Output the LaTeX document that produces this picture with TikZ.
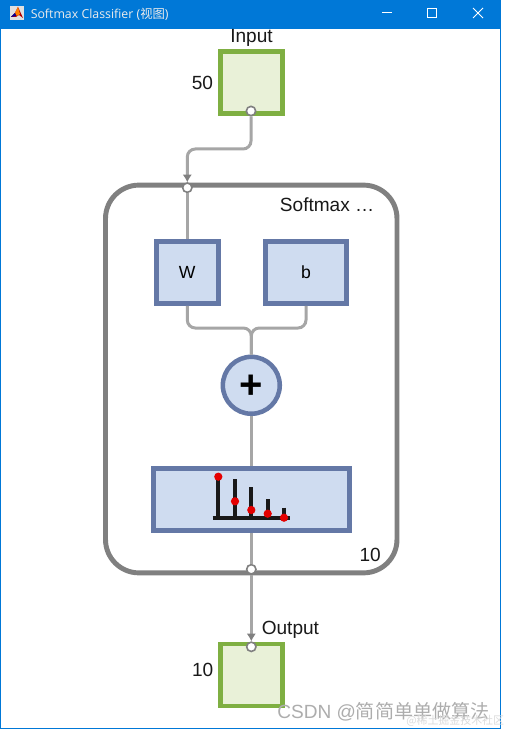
\documentclass[tikz,border=0pt]{standalone}
\usepackage{fontspec}
\setmainfont{Liberation Sans}
\newfontfamily\cjkfont{Noto Sans CJK SC}
\newfontfamily\titlefont{Open Sans}
\usetikzlibrary{arrows.meta}
\definecolor{winblue}{HTML}{0078D7}
\definecolor{iofill}{HTML}{E9F1D8}
\definecolor{ioedge}{HTML}{7FAF42}
\definecolor{blfill}{HTML}{CFDCF0}
\definecolor{bledge}{HTML}{6478A6}
\definecolor{wiregray}{HTML}{A6A6A6}
\definecolor{tipgray}{HTML}{808080}
\definecolor{outergray}{HTML}{808080}
\tikzset{
  x=0.75pt,y=-0.75pt,
  lbl/.style={inner sep=0pt,anchor=base,font=\fontsize{14.3pt}{16pt}\selectfont,text=black!90},
  iobox/.style={draw=ioedge,fill=iofill,line width=3.6pt,minimum width=46.5pt,minimum height=46.5pt,inner sep=0pt},
  blbox/.style={draw=bledge,fill=blfill,line width=3.4pt,minimum height=46.5pt,inner sep=0pt,font=\fontsize{13.2pt}{15pt}\selectfont},
  port/.style={circle,draw=tipgray,fill=white,line width=1.2pt,minimum size=7pt,inner sep=0pt},
  wire/.style={draw=wiregray,line width=2.25pt,rounded corners=6pt},
  wirearrow/.style={wire,-{Latex[length=5.8pt,width=7pt,color=tipgray]}},
  stem/.style={line width=3pt,draw=black!90},
  dot/.style={circle,fill=red!90!black,inner sep=0pt,minimum size=6.2pt},
  winbtn/.style={draw=white,line width=0.75pt},
  wmark/.style={inner sep=0pt,anchor=base west,text=black!32}
}
\begin{document}
\begin{tikzpicture}
\useasboundingbox (0,0) rectangle (504,730);
\fill[white] (0,0) rectangle (504,730);
% window
\draw[winblue,line width=0.9pt] (0.6,0) -- (0.6,728.4) -- (500.6,728.4) -- (500.6,0);
\fill[winblue] (0,0) rectangle (501,29);
% icon
\fill[black!12] (10,6) rectangle (24,20);
\fill[red!70!black] (11,17) -- (15,13) -- (18,7) -- (23,18) -- (19,15) -- (16,17) -- cycle;
\fill[orange] (15,13) -- (18,7) -- (20,14) -- (17,16) -- cycle;
\fill[blue!60!black] (11,17) -- (15,13) -- (16,16) -- cycle;
\node[inner sep=0pt,anchor=base west,text=white!92!black,font=\fontsize{9.25pt}{11pt}\titlefont] (title) at (30.5,18.5) {Softmax Classifier ({\cjkfont 视图})};
\draw[winbtn] (382,13) -- (392,13);
\draw[winbtn] (427.5,8.5) rectangle (436.5,17.5);
\draw[winbtn] (473,8) -- (483,18) (483,8) -- (473,18);
% outer block
\node[draw=outergray,line width=3.7pt,rounded corners=25pt,fill=white,minimum width=218.6pt,minimum height=290.8pt,inner sep=0pt] (net) at (251.25,379) {};
% nodes
\node[iobox] (input) at (251.5,82.5) {};
\node[iobox] (output) at (251.5,675) {};
\node[blbox,minimum width=46.5pt] (W) at (187.3,272.6) {W};
\node[blbox,minimum width=61pt] (b) at (306,272.6) {b};
\node[circle,draw=bledge,fill=blfill,line width=3.4pt,minimum size=42.7pt,inner sep=0pt] (add) at (251.3,385.3) {};
\node[blbox,minimum width=147pt] (soft) at (251.3,499.4) {};
\node[port] (inport) at (251,111) {};
\node[port] (netin) at (187.3,187.7) {};
\node[port] (netout) at (251.3,569.3) {};
\node[port] (outport) at (251.3,646.8) {};
\coordinate (inbend) at (187.3,149);
\coordinate (wbend) at (187.3,328);
\coordinate (bbend) at (306,328);
\coordinate (addin) at (251.3,328);
\coordinate (netintip) at (187.3,182.4);
\coordinate (outtip) at (251.3,641.4);
% wires
\draw[wirearrow] (inport.south) -- (inport.south |- inbend) -- (inbend) -- (netintip);
\draw[wire] (netin.south) -- (W.north);
\draw[wire] (W.south) -- (wbend) -- (addin) -- (add.north);
\draw[wire] (b.south) -- (bbend) -- (addin) -- (add.north);
\draw[wire] (add.south) -- (soft.north);
\draw[wire] (soft.south) -- (netout.north);
\draw[wirearrow] (netout.south) -- (outtip);
\node[inner sep=0pt,font=\bfseries\fontsize{30pt}{32pt}\selectfont,text=black] (plus) at ([yshift=-0.8pt]add.center) {+};
% softmax glyph
\draw[stem,line width=3.2pt] (212.5,517.7) -- (290,517.7);
\foreach \x/\t/\d in {218.3/477/476.7,235/479/501.3,251.3/487/510,267.7/499/513.7,284/507.7/517.7}{
  \draw[stem] (\x,\t) -- (\x,517.7);
  \node[dot] at (\x,\d) {};
}
% labels
\node[lbl] (linput) at (251.5,42.7) {Input};
\node[lbl,anchor=base east] (l50) at (213.3,89.2) {50};
\node[lbl,anchor=base east] (lname) at (374.5,211.8) {Softmax …};
\node[lbl,anchor=base east] (lten) at (381,561.2) {10};
\node[lbl,anchor=base west] (loutput) at (261.5,634) {Output};
\node[lbl,anchor=base east] (lten2) at (213.5,676.2) {10};
% watermark
\node[wmark,font=\fontsize{14.3pt}{16pt}\selectfont] (wm) at (277,718) {CSDN @{\cjkfont 简简单单做算法}};
\node[wmark,text=black!14,font=\fontsize{8.2pt}{10pt}\cjkfont] (wm2) at (406,724) {@稀土掘金技术社区};
\end{tikzpicture}
\end{document}
